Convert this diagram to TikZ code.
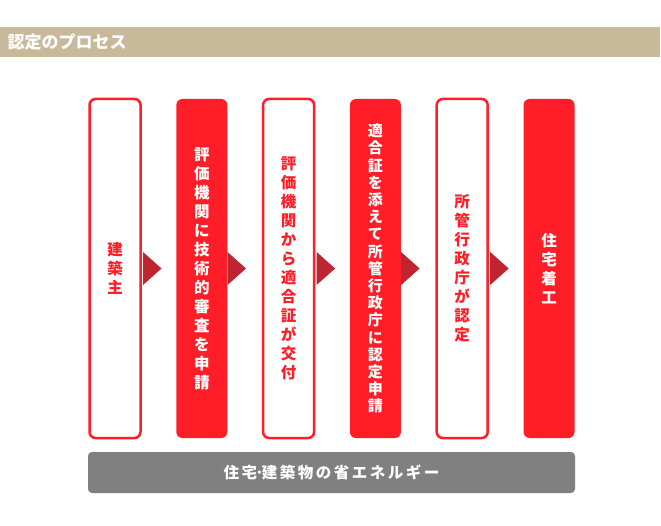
\documentclass[tikz,border=0pt]{standalone}
\usepackage{fontspec}
\setmainfont{Noto Sans CJK JP}
\definecolor{myred}{HTML}{FF1E27}
\definecolor{arrowred}{HTML}{BE2530}
\definecolor{tanbar}{HTML}{C8B99A}
\definecolor{bargray}{HTML}{808080}
\begin{document}
\begin{tikzpicture}[x=1pt,y=-1pt,
  stepbox/.style={rectangle, rounded corners=6pt, minimum width=51pt, minimum height=339pt, inner sep=0pt, align=center, font=\bfseries\fontsize{15.5}{19}\selectfont},
  outlined/.style={stepbox, draw=myred, line width=2.5pt, fill=white, text=myred},
  filledbox/.style={stepbox, fill=myred, text=white},
  arr/.style={fill=arrowred}]
\useasboundingbox (0,0) rectangle (661,526);
% title bar
\node[fill=tanbar, anchor=north west, minimum width=660pt, minimum height=30pt, inner sep=0pt] (title) at (0,27) {};
\node[anchor=west, text=white, inner sep=0pt, font=\bfseries\fontsize{17}{17}\selectfont] (titletext) at (7.5,42.5) {認定のプロセス};
% steps
\node[outlined] (b1) at (115,268.5) {建\\築\\主};
\node[filledbox] (b2) at (201.8,268.5) {評\\価\\機\\関\\に\\技\\術\\的\\審\\査\\を\\申\\請};
\node[outlined] (b3) at (288.6,268.5) {評\\価\\機\\関\\か\\ら\\適\\合\\証\\が\\交\\付};
\node[filledbox, font=\bfseries\fontsize{15}{17.2}\selectfont] (b4) at (375.4,268.5) {適\\合\\証\\を\\添\\え\\て\\所\\管\\行\\政\\庁\\に\\認\\定\\申\\請};
\node[outlined] (b5) at (462.2,268.5) {所\\管\\行\\政\\庁\\が\\認\\定};
\node[filledbox] (b6) at (549,268.5) {住\\宅\\着\\工};
% arrows
\foreach \b/\o in {b1/1.25,b2/0,b3/1.25,b4/0,b5/1.25}{
  \fill[arr] ([xshift=\o pt]\b.east) ++(0,-16.5) -- ++(18.5,16.5) -- ++(-18.5,16.5) -- cycle;
}
% bottom bar
\node[fill=bargray, rounded corners=4pt, minimum width=487pt, minimum height=41pt, inner sep=0pt, text=white, font=\bfseries\fontsize{15.5}{15.5}\selectfont\addfontfeature{LetterSpace=16}] (base) at (331.5,472.5) {住宅\mbox{\kern-1.5pt ･\kern-1.5pt}建築物の省エネルギー};
\end{tikzpicture}
\end{document}
